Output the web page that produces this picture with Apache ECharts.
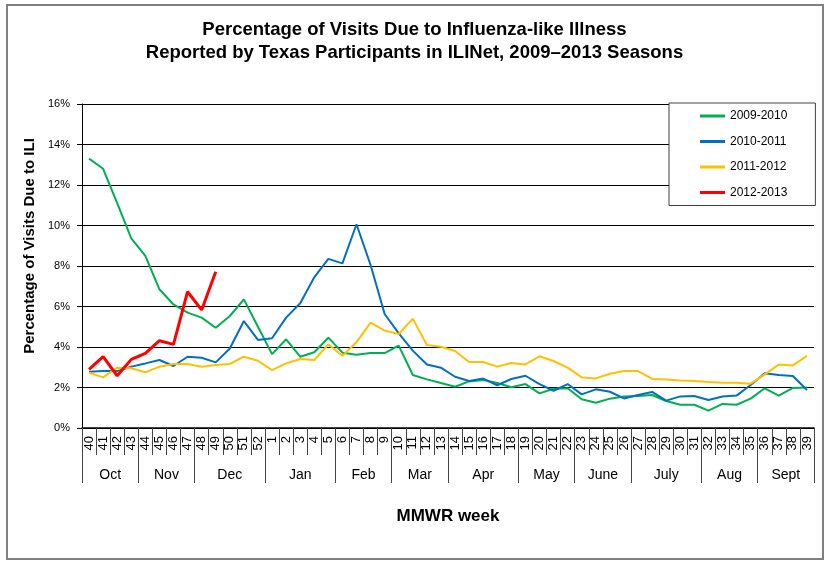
<!DOCTYPE html>
<html>
<head>
    <meta charset="UTF-8">
    <title>ILI Texas 2009-2013</title>
    <script src="https://cdn.jsdelivr.net/npm/echarts/dist/echarts.min.js"></script>
    <style>
        body{
            margin: 0;
            background: #fff;
        }
        #chart{
            width: 829px;
            height: 564px;
        }
    </style>
</head>
<body>
<div id="chart"></div>
<script type="text/javascript">
// MMWR weeks, Oct -> Sept
var weeks = ['40','41','42','43','44','45','46','47','48','49','50','51','52',
    '1','2','3','4','5','6','7','8','9','10','11','12','13','14','15','16','17','18','19','20',
    '21','22','23','24','25','26','27','28','29','30','31','32','33','34','35','36','37','38','39'];
var months = ['Oct','Nov','Dec','Jan','Feb','Mar','Apr','May','June','July','Aug','Sept'];
var monthWeeks = [4,4,5,5,4,4,5,4,4,5,4,4];
var seasons = ['2009-2010','2010-2011','2011-2012','2012-2013'];

var s0910 = [13.3,12.8,11.1,9.37,8.5,6.85,6.1,5.7,5.45,4.95,5.53,6.35,5.0,
    3.65,4.38,3.52,3.74,4.46,3.72,3.62,3.70,3.70,4.07,2.62,2.40,2.22,2.04,2.30,2.37,2.22,2.01,2.17,1.71,
    1.94,1.96,1.42,1.25,1.45,1.55,1.58,1.63,1.33,1.15,1.15,0.86,1.19,1.15,1.45,1.96,1.60,1.98,2.0];
var s1011 = [2.78,2.81,2.81,3.03,3.19,3.36,3.06,3.52,3.47,3.24,3.93,5.28,4.35,
    4.43,5.45,6.16,7.44,8.35,8.13,10.06,8.05,5.63,4.67,3.82,3.14,2.98,2.53,2.32,2.44,2.11,2.42,2.58,2.17,
    1.84,2.17,1.66,1.91,1.79,1.46,1.63,1.78,1.35,1.56,1.58,1.38,1.56,1.60,2.12,2.70,2.62,2.57,1.88];
var s1112 = [2.73,2.5,2.98,2.95,2.75,3.03,3.16,3.16,3.03,3.11,3.16,3.52,3.32,
    2.86,3.19,3.41,3.36,4.13,3.57,4.23,5.2,4.81,4.64,5.4,4.1,4.01,3.8,3.26,3.26,3.03,3.21,3.14,3.54,
    3.31,2.98,2.5,2.45,2.68,2.81,2.81,2.42,2.4,2.34,2.32,2.27,2.24,2.24,2.19,2.65,3.13,3.09,3.56];
var s1213 = [2.9,3.52,2.58,3.39,3.69,4.31,4.13,6.73,5.83,7.72];

// month axis: half-week steps so month borders and month centres both land on a category
var monthCats = [];
var monthEdges = {};
var monthMids = {};
(function(){
    var n = 0;
    for (var i = 0; i <= 104; i++) monthCats.push('');
    monthEdges[0] = true;
    for (var m = 0; m < months.length; m++) {
        var mid = n * 2 + monthWeeks[m];
        monthCats[mid] = months[m];
        monthMids[mid] = true;
        n += monthWeeks[m];
        monthEdges[n * 2] = true;
    }
})();

var font = 'Liberation Sans, Arial, sans-serif';
var myChart = echarts.init(document.getElementById('chart'));
var option = {
    animation: false,
    textStyle: {fontFamily: font, color: '#000'},
    color: ['#00b050','#0070c0','#ffc000','#ff0000'],
    title: {
        left: 'center',
        top: 18,
        padding: 0,
        text: 'Percentage of Visits Due to Influenza-like Illness\nReported by Texas Participants in ILINet, 2009\u20132013 Seasons',
        textStyle: {fontFamily: font, fontSize: 18.5, fontWeight: 'bold', lineHeight: 23.5, color: '#000'}
    },
    graphic: [{
        type: 'rect',
        shape: {x: 7, y: 5, width: 816, height: 554},
        style: {fill: 'none', stroke: '#808080', lineWidth: 2},
        silent: true
    }],
    legend: {
        orient: 'vertical',
        left: 669,
        top: 103,
        data: seasons,
        icon: 'rect',
        itemWidth: 25,
        itemHeight: 3,
        itemGap: 13.5,
        padding: [7, 28, 7, 31],
        backgroundColor: '#fff',
        borderColor: '#404040',
        borderWidth: 1,
        borderRadius: 0,
        textStyle: {fontFamily: font, fontSize: 12, color: '#000'}
    },
    grid: {
        left: 82,
        top: 104,
        right: 15,
        bottom: 136
    },
    xAxis: [
        {
            type: 'category',
            data: weeks,
            boundaryGap: true,
            name: 'MMWR week',
            nameLocation: 'middle',
            nameGap: 80,
            nameTextStyle: {fontFamily: font, fontSize: 17, fontWeight: 'bold', color: '#000'},
            axisLine: {lineStyle: {color: '#000', width: 1.5}},
            axisTick: {show: true, interval: 0, length: 27, lineStyle: {color: '#444'}},
            axisLabel: {interval: 0, rotate: 90, margin: 8, fontSize: 13, color: '#000'},
            splitLine: {show: false}
        },
        {
            type: 'category',
            data: monthCats,
            boundaryGap: false,
            position: 'bottom',
            axisLine: {show: false},
            axisTick: {
                show: true,
                length: 55,
                interval: function (i) { return !!monthEdges[i]; },
                lineStyle: {color: '#444'}
            },
            axisLabel: {
                interval: function (i) { return !!monthMids[i]; },
                margin: 40,
                fontSize: 14,
                color: '#000'
            },
            splitLine: {show: false}
        }
    ],
    yAxis: {
        type: 'value',
        min: 0,
        max: 16,
        interval: 2,
        name: 'Percentage of Visits Due to ILI',
        nameLocation: 'middle',
        nameGap: 44,
        nameTextStyle: {fontFamily: font, fontSize: 15, fontWeight: 'bold', color: '#000', padding: [0, 0, 0, 40]},
        axisLine: {show: true, lineStyle: {color: '#000', width: 1}},
        axisTick: {show: true, length: 5, lineStyle: {color: '#000'}},
        axisLabel: {formatter: '{value}%', margin: 12, fontSize: 11, color: '#000'},
        splitLine: {lineStyle: {color: '#000', width: 1}}
    },
    series: [
        {name: seasons[0], type: 'line', data: s0910, symbol: 'none', lineStyle: {width: 2}},
        {name: seasons[1], type: 'line', data: s1011, symbol: 'none', lineStyle: {width: 2}},
        {name: seasons[2], type: 'line', data: s1112, symbol: 'none', lineStyle: {width: 2}},
        {name: seasons[3], type: 'line', data: s1213, symbol: 'none', lineStyle: {width: 3}}
    ]
};
myChart.setOption(option, true);
window.onresize = myChart.resize;
</script>
</body>
</html>
